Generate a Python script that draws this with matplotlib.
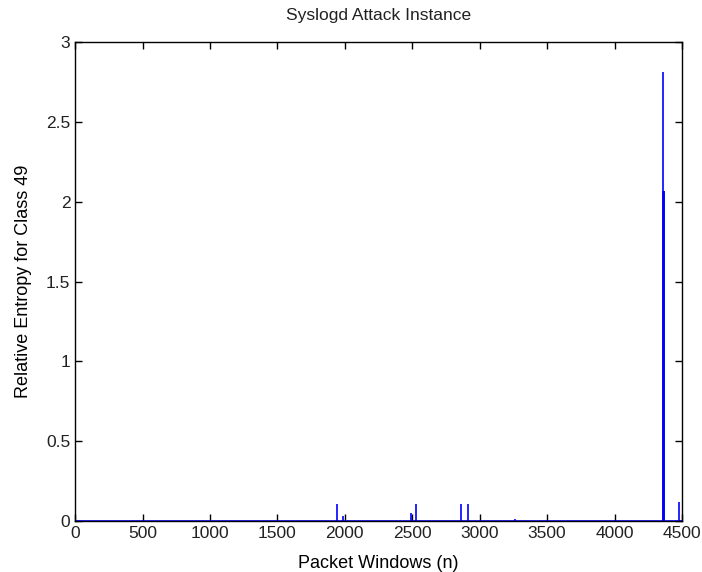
import numpy as np
import matplotlib
matplotlib.use('Agg')
import matplotlib.pyplot as plt

# packet window index and relative entropy at the non-zero windows
n_windows = 4500
spike_x = [1945, 1990, 2490, 2530, 2860, 2910, 3265, 4356, 4362, 4366, 4370, 4478]
spike_y = [0.11, 0.03, 0.05, 0.11, 0.11, 0.11, 0.01, 2.81, 2.07, 2.07, 2.07, 0.12]
xticks = [0, 500, 1000, 1500, 2000, 2500, 3000, 3500, 4000, 4500]
yticks = [0, 0.5, 1, 1.5, 2, 2.5, 3]

plt.rcParams['font.family'] = ['Liberation Sans', 'DejaVu Sans']
plt.rcParams['font.size'] = 12
plt.rcParams['text.color'] = '#222222'

fig = plt.figure(figsize=(7.02, 5.72), dpi=100)
ax = fig.add_axes([0.107, 0.089, 0.8645, 0.8375])

ax.plot([0, n_windows], [0, 0], color='#0000ff', linewidth=1.2)
ax.vlines(spike_x, 0, spike_y, color='#0000ff', linewidth=1.2)

ax.set_xlim(0, n_windows)
ax.set_ylim(0, 3)
ax.set_xticks(xticks)
ax.set_yticks(yticks)
ax.set_yticklabels(['0', '0.5', '1', '1.5', '2', '2.5', '3'])
ax.tick_params(direction='in', top=True, right=True, length=5, width=1,
               labelsize=12.5, labelcolor='#222222')
for s in ax.spines.values():
    s.set_linewidth(1)

ax.set_xlabel('Packet Windows (n)', fontsize=13, labelpad=10)
ax.set_ylabel('Relative Entropy for Class 49', fontsize=13, labelpad=10)
ax.set_title('Syslogd Attack Instance', fontsize=12.5, pad=16)

plt.savefig('out.png', dpi=100)
